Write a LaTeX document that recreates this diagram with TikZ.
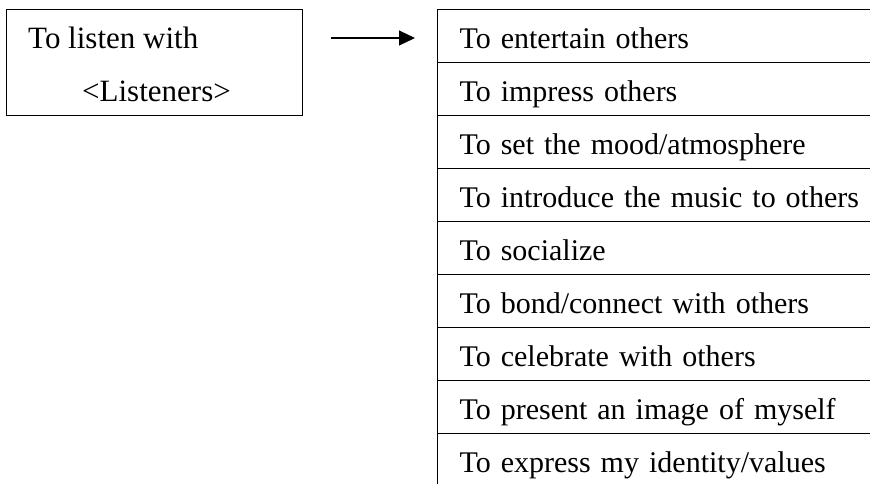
\documentclass[tikz,border=0pt]{standalone}
\usepackage{fontspec}
\setmainfont{Liberation Serif}
\usetikzlibrary{arrows.meta}
\begin{document}
\begin{tikzpicture}[x=1pt,y=-1pt,
  box/.style={draw=black,line width=1.1pt,rectangle,inner sep=0pt,anchor=north west},
  rowbox/.style={box,minimum width=470pt,minimum height=53pt,text width=426pt,inner xsep=22pt,align=left,text height=30pt,text depth=5pt,font=\fontsize{30}{36}\selectfont},
  txt/.style={anchor=base west,inner sep=0pt,font=\fontsize{31}{36}\selectfont},
  conn/.style={line width=1.1pt,-{Triangle[length=16pt,width=15pt]}}]
\useasboundingbox (0,0) rectangle (870,483);
\clip (0,0) rectangle (870,483);
\node[box,minimum width=296pt,minimum height=106pt] (src) at (6,9) {};
\node[txt] (t1) at (28,48) {To listen with};
\node[txt] (t2) at (82,101) {<Listeners>};
\node[rowbox] (r1) at (437,9) {\makebox[0pt][l]{To entertain others}};
\node[rowbox] (r2) at (437,62) {\makebox[0pt][l]{To impress others}};
\node[rowbox] (r3) at (437,115) {\makebox[0pt][l]{To set the mood/atmosphere}};
\node[rowbox] (r4) at (437,168) {\makebox[0pt][l]{To introduce the music to others}};
\node[rowbox] (r5) at (437,221) {\makebox[0pt][l]{To socialize}};
\node[rowbox] (r6) at (437,274) {\makebox[0pt][l]{To bond/connect with others}};
\node[rowbox] (r7) at (437,327) {\makebox[0pt][l]{To celebrate with others}};
\node[rowbox] (r8) at (437,380) {\makebox[0pt][l]{To present an image of myself}};
\node[rowbox] (r9) at (437,433) {\makebox[0pt][l]{To express my identity/values}};
\coordinate (a1) at (331,38);
\coordinate (a2) at (415,38);
\draw[conn] (a1) -- (a2);
\end{tikzpicture}
\end{document}
